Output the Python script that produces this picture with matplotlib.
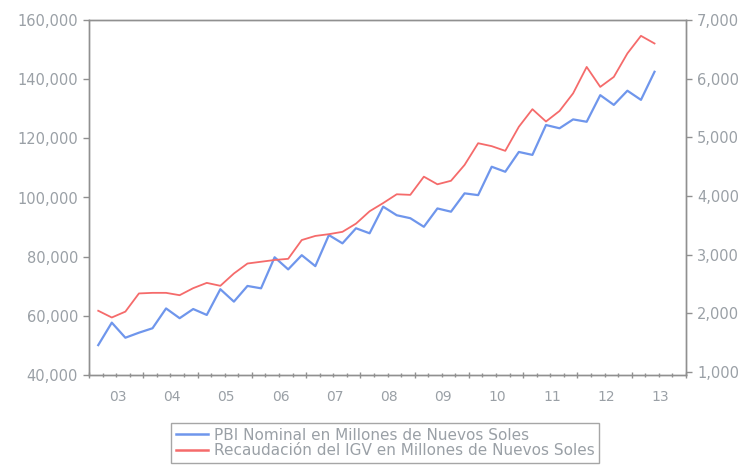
import matplotlib
matplotlib.use("Agg")
import matplotlib.pyplot as plt
import matplotlib.transforms as mtransforms
from matplotlib.ticker import FuncFormatter, MultipleLocator

# ---- data (quarterly, 2003Q1 .. 2013Q2) ----
start_year = 2003
pbi = [50100, 57700, 52600, 54300, 55800, 62500, 59200, 62300, 60300, 69000,
       64800, 70100, 69300, 79800, 75700, 80500, 76800, 87300, 84500, 89600,
       87900, 96900, 94000, 93000, 90100, 96300, 95200, 101400, 100800, 110400,
       108700, 115400, 114400, 124500, 123400, 126400, 125600, 134600, 131300,
       136100, 133000, 142500]
igv = [2045, 1930, 2030, 2340, 2350, 2350, 2310, 2430, 2520, 2470,
       2680, 2850, 2880, 2910, 2930, 3250, 3320, 3350, 3390, 3530,
       3740, 3880, 4030, 4020, 4330, 4200, 4260, 4530, 4900, 4850,
       4770, 5180, 5480, 5270, 5450, 5750, 6200, 5860, 6030, 6430,
       6730, 6600]
year_labels = ["03", "04", "05", "06", "07", "08", "09", "10", "11", "12", "13"]
series_names = ["PBI Nominal en Millones de Nuevos Soles",
                "Recaudación del IGV en Millones de Nuevos Soles"]

x = [start_year + 0.17 + i / 4 for i in range(len(pbi))]

blue = "#6f96ec"
red = "#f56b6b"
grey = "#909090"
txt = "#9aa0a6"

fig = plt.figure(figsize=(7.45, 4.69), dpi=100)
ax = fig.add_axes([89 / 745, 94 / 469, 597 / 745, 355 / 469])
ax2 = ax.twinx()

l1, = ax.plot(x, pbi, color=blue, lw=1.6)
l2, = ax2.plot(x, igv, color=red, lw=1.3)

ax.set_xlim(2003, 2014)
ax.set_ylim(40000, 160000)
ax2.set_ylim(950, 7000)

fmt = FuncFormatter(lambda v, p: f"{int(v):,}")
ax.yaxis.set_major_locator(MultipleLocator(20000))
ax2.yaxis.set_major_locator(MultipleLocator(1000))
ax.yaxis.set_major_formatter(fmt)
ax2.yaxis.set_major_formatter(fmt)

ax.set_xticks(range(2003, 2015))
ax.set_xticklabels([])
ax.xaxis.set_minor_locator(MultipleLocator(0.25))

for a in (ax, ax2):
    for s in a.spines.values():
        s.set_color(grey)
        s.set_linewidth(1.0)
ax.tick_params(axis="y", colors=grey, labelcolor=txt, labelsize=10.5, length=4, width=1, pad=4)
ax2.tick_params(axis="y", colors=grey, labelcolor=txt, labelsize=10.5, length=4, width=1, pad=4)
ax.tick_params(axis="x", which="major", colors=grey, length=5, width=1, direction="inout")
ax.tick_params(axis="x", which="minor", colors=grey, length=3, width=1, direction="inout")

trans = mtransforms.blended_transform_factory(ax.transData, ax.transAxes)
for k, lab in enumerate(year_labels):
    ax.text(start_year + k + 0.53, -0.042, lab, transform=trans, ha="center", va="top",
            fontsize=10, color=txt)

leg = fig.legend([l1, l2], series_names, loc="upper center",
                 bbox_to_anchor=(385 / 745, 1 - 423 / 469), ncol=1, fontsize=11,
                 frameon=True, fancybox=False, handlelength=2.1, handletextpad=0.4,
                 borderpad=0.3, borderaxespad=0, labelspacing=0.05)
leg.get_frame().set_edgecolor(grey)
leg.get_frame().set_linewidth(1.0)
for t in leg.get_texts():
    t.set_color(txt)
for h in leg.get_lines():
    h.set_linewidth(1.8)

fig.savefig("out.png", dpi=100)
